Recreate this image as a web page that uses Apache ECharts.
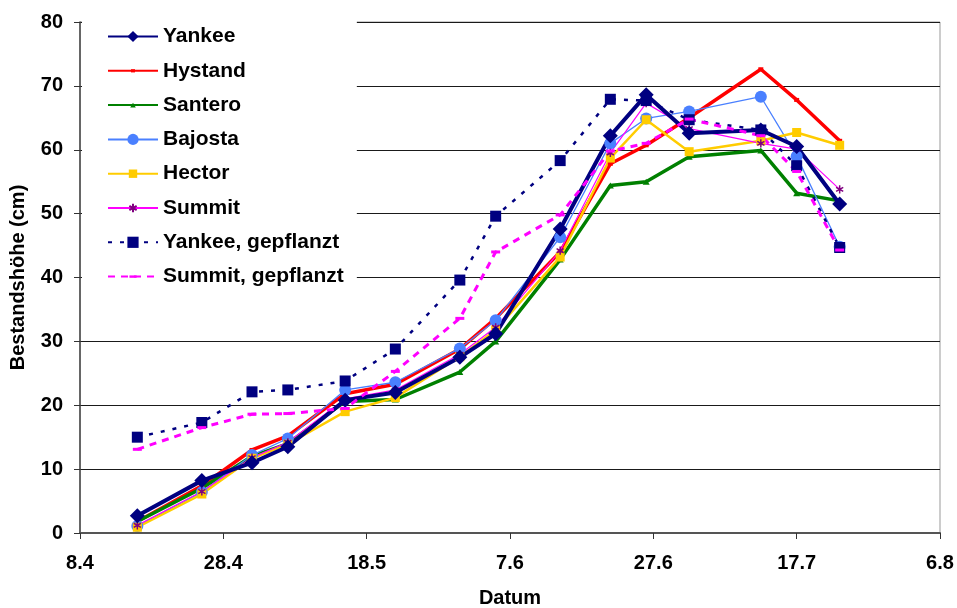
<!DOCTYPE html>
<html>
<head>
<meta charset="utf-8">
<script src="https://cdn.jsdelivr.net/npm/echarts@6/dist/echarts.min.js"></script>
<style>
  html, body { margin: 0; padding: 0; background: #fff; }
  #chart { width: 957px; height: 608px; }
</style>
</head>
<body>
<div id="chart"></div>
<script>
// Messtermine (Tag.Monat)
var dates = ['16.4', '25.4', '2.5', '7.5', '15.5', '22.5', '31.5', '5.6', '14.6', '21.6', '26.6', '2.7', '12.7', '17.7', '23.7'];
var xTickLabels = ['8.4', '28.4', '18.5', '7.6', '27.6', '17.7', '6.8'];

// Bestandshöhe in cm
var yankee    = [2.7, 8.2, 11.0, 13.5, 20.8, 22.0, 27.5, 31.2, 47.6, 62.2, 68.6, 62.6, 63.1, 60.5, 51.5];
var hystand   = [1.8, 7.4, 13.0, 15.2, 21.8, 23.3, 28.8, 33.6, 44.0, 57.8, 60.7, 65.0, 72.6, 67.8, 61.4];
var santero   = [1.8, 7.0, 12.0, 14.0, 20.6, 20.9, 25.2, 30.0, 42.8, 54.4, 55.0, 58.9, 59.9, 53.2, 52.0];
var bajosta   = [1.1, 6.4, 12.2, 14.8, 22.4, 23.6, 28.9, 33.3, 46.3, 61.0, 64.9, 66.0, 68.3, 59.0, 44.8];
var hector    = [0.9, 6.1, 11.7, 13.9, 19.0, 21.2, 27.6, 31.8, 43.2, 58.7, 64.7, 59.7, 61.4, 62.7, 60.7];
var summit    = [1.2, 6.5, 11.8, 14.2, 21.0, 22.4, 28.0, 32.2, 44.2, 59.5, 67.3, 63.3, 61.0, 60.1, 53.8];
var yankeeGep = [15.0, 17.3, 22.1, 22.4, 23.8, 28.8, 39.6, 49.6, 58.3, 67.9, 67.7, 64.7, 63.1, 57.5, 44.7];
var summitGep = [13.1, 16.5, 18.6, 18.7, 19.5, 25.3, 33.6, 44.0, 49.8, 59.8, 61.0, 64.8, 62.2, 56.6, 44.3];

var FONT = '"Liberation Sans", Arial, sans-serif';

function dayNo(s){ // Tage seit 8.4.
  var p = s.split('.');
  return (Date.UTC(2000, +p[1] - 1, +p[0]) - Date.UTC(2000, 3, 8)) / 86400000;
}
var days = dates.map(dayNo);

function pairs(vals){
  return vals.map(function(v, i){ return [days[i], v]; });
}

function mkSeries(name, vals, color, width, symbol, size, extra){
  var s = {
    name: name,
    type: 'line',
    data: pairs(vals),
    symbol: symbol,
    symbolSize: size,
    lineStyle: { color: color, width: width },
    itemStyle: { color: color },
    emphasis: { disabled: true },
    animation: false
  };
  if (extra) {
    for (var k in extra) s[k] = extra[k];
  }
  return s;
}

// kleine Marker: die leeren M-Punkte halten den Rahmen fest, damit sie in der Legende klein bleiben
var smallRect = 'path://M0,0M14,14M4.5,5L9.5,5L9.5,9L4.5,9Z';
var smallTri  = 'path://M0,0M14,14M7,4L10.5,10L3.5,10Z';
var hectorSq  = 'path://M0,0M12,12M1.5,1.5L10.5,1.5L10.5,10.5L1.5,10.5Z';
var dashMark  = 'path://M0,0M14,14M2.5,5.5L11.5,5.5L11.5,8.5L2.5,8.5Z';
var asterisk  = 'path://M0,0M12,12M6,1.5L6,10.5M2.1,3.75L9.9,8.25M2.1,8.25L9.9,3.75';

var chart = echarts.init(document.getElementById('chart'), null, { renderer: 'canvas' });
chart.setOption({
  backgroundColor: '#fff',
  animation: false,
  grid: {
    left: 80, right: 17, top: 22, bottom: 75,
    outerBoundsMode: 'none',
    show: true, borderColor: '#999', borderWidth: 1
  },
  legend: {
    orient: 'vertical',
    left: 82, top: 18,
    padding: [8, 13, 10, 25],
    backgroundColor: '#fff',
    itemWidth: 50, itemHeight: 14, itemGap: 13.3,
    textStyle: { fontFamily: FONT, fontWeight: 'bold', fontSize: 21, lineHeight: 21, color: '#000' },
    data: ['Yankee', 'Hystand', 'Santero', 'Bajosta', 'Hector', 'Summit', 'Yankee, gepflanzt', 'Summit, gepflanzt']
  },
  xAxis: {
    type: 'value',
    min: 0, max: 120, interval: 20,
    name: 'Datum',
    nameLocation: 'middle',
    nameGap: 55,
    nameTextStyle: { fontFamily: FONT, fontWeight: 'bold', fontSize: 20, color: '#000' },
    axisLine: { lineStyle: { color: '#555', width: 2 } },
    axisTick: { show: true, length: 6, lineStyle: { color: '#333' } },
    axisLabel: {
      margin: 20,
      fontFamily: FONT, fontWeight: 'bold', fontSize: 20, color: '#000',
      formatter: function(v){ return xTickLabels[Math.round(v / 20)]; }
    },
    splitLine: { show: false }
  },
  yAxis: {
    type: 'value',
    min: 0, max: 80, interval: 10,
    name: 'Bestandshöhe (cm)',
    nameLocation: 'middle',
    nameGap: 52,
    nameTextStyle: { fontFamily: FONT, fontWeight: 'bold', fontSize: 20, color: '#000' },
    axisLine: { show: true, lineStyle: { color: '#444', width: 1.5 } },
    axisTick: { show: true, length: 6, lineStyle: { color: '#333' } },
    axisLabel: { margin: 17, fontFamily: FONT, fontWeight: 'bold', fontSize: 20, color: '#000' },
    splitLine: { show: true, lineStyle: { color: '#1a1a1a', width: 1 } }
  },
  series: [
    mkSeries('Hystand', hystand, '#ff0000', 3.5, smallRect, 14),
    mkSeries('Santero', santero, '#008000', 3.5, smallTri, 14),
    mkSeries('Bajosta', bajosta, '#4a80ff', 1.3, 'circle', 12),
    mkSeries('Hector', hector, '#ffcc00', 2.5, hectorSq, 12),
    mkSeries('Summit', summit, '#ff00ff', 1.2, asterisk, 11, {
      itemStyle: { color: '#800080', borderColor: '#800080', borderWidth: 1.5 }
    }),
    mkSeries('Yankee', yankee, '#000080', 4, 'diamond', 15),
    mkSeries('Yankee, gepflanzt', yankeeGep, '#000080', 2.5, 'rect', 11, {
      lineStyle: { color: '#000080', width: 2.5, type: [4, 8] }
    }),
    mkSeries('Summit, gepflanzt', summitGep, '#ff00ff', 3, dashMark, 14, {
      lineStyle: { color: '#ff00ff', width: 3, type: [7, 6] }
    })
  ]
});
</script>
</body>
</html>
